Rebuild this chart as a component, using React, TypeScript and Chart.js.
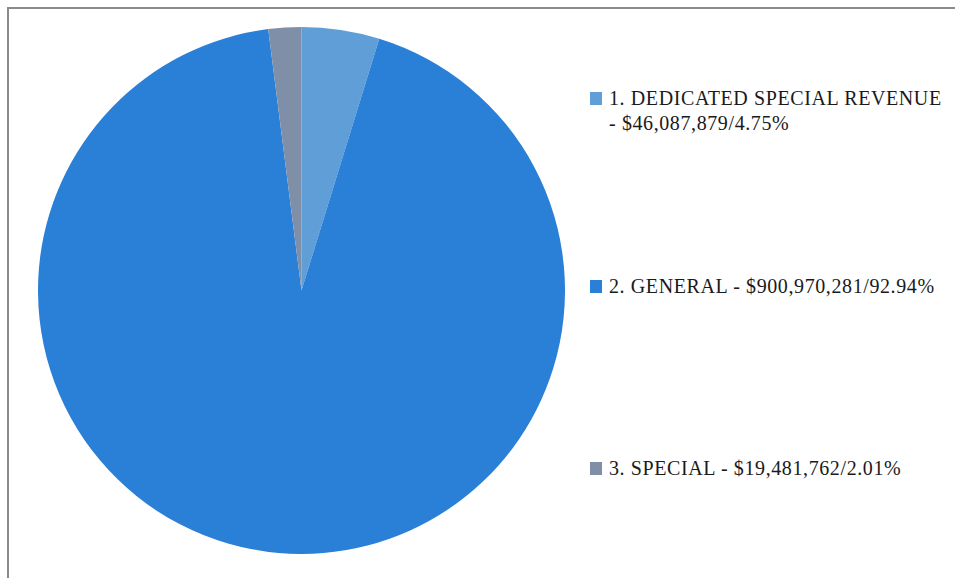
import React, { useEffect, useRef } from "react";
import { Chart, registerables } from "chart.js";

Chart.register(...registerables);

const categories = ["1. DEDICATED SPECIAL REVENUE", "2. GENERAL", "3. SPECIAL"];
const amounts = [46087879, 900970281, 19481762];
const percents = ["4.75%", "92.94%", "2.01%"];
const colors = ["#5F9ED6", "#2A7FD7", "#7F8FA8"];

const fmt = (n: number) => "$" + n.toLocaleString("en-US");

export default function App() {
  const ref = useRef<HTMLCanvasElement | null>(null);

  useEffect(() => {
    document.body.style.overflow = "hidden";
    if (!ref.current) return;
    const chart = new Chart(ref.current, {
      type: "pie",
      data: {
        labels: categories,
        datasets: [
          {
            data: amounts,
            backgroundColor: colors,
            borderWidth: 0,
          },
        ],
      },
      options: {
        responsive: false,
        animation: false,
        rotation: 0,
        plugins: {
          legend: { display: false },
          tooltip: { enabled: false },
        },
      },
    });
    return () => chart.destroy();
  }, []);

  const legendTops = [92, 280, 462];
  const textStyle: React.CSSProperties = {
    fontFamily: "'Liberation Serif', serif",
    fontSize: "20px",
    letterSpacing: "0.6px",
    color: "#1a1a1a",
    lineHeight: "25px",
    whiteSpace: "nowrap",
  };

  return (
    <div
      style={{
        position: "fixed",
        left: 0,
        top: 0,
        width: 955,
        height: 578,
        overflow: "hidden",
        background: "#fff",
      }}
    >
      <div
        style={{
          position: "absolute",
          left: 7,
          top: 7,
          width: 1000,
          height: 640,
          borderLeft: "2px solid #8a8a8a",
          borderTop: "2px solid #8a8a8a",
          boxSizing: "border-box",
        }}
      />
      <canvas
        ref={ref}
        width={527}
        height={527}
        style={{ position: "absolute", left: 38, top: 27, width: 527, height: 527 }}
      />
      {categories.map((c, i) => (
        <div key={c} style={{ position: "absolute", left: 590, top: legendTops[i] }}>
          <div
            style={{
              position: "absolute",
              left: 0,
              top: 0,
              width: 12,
              height: 13,
              background: colors[i],
            }}
          />
          <div style={{ ...textStyle, position: "absolute", left: 19, top: -6 }}>
            {i === 0 ? (
              <>
                <div>{c}</div>
                <div>- {fmt(amounts[i])}/{percents[i]}</div>
              </>
            ) : (
              <div>
                {c} - {fmt(amounts[i])}/{percents[i]}
              </div>
            )}
          </div>
        </div>
      ))}
    </div>
  );
}
